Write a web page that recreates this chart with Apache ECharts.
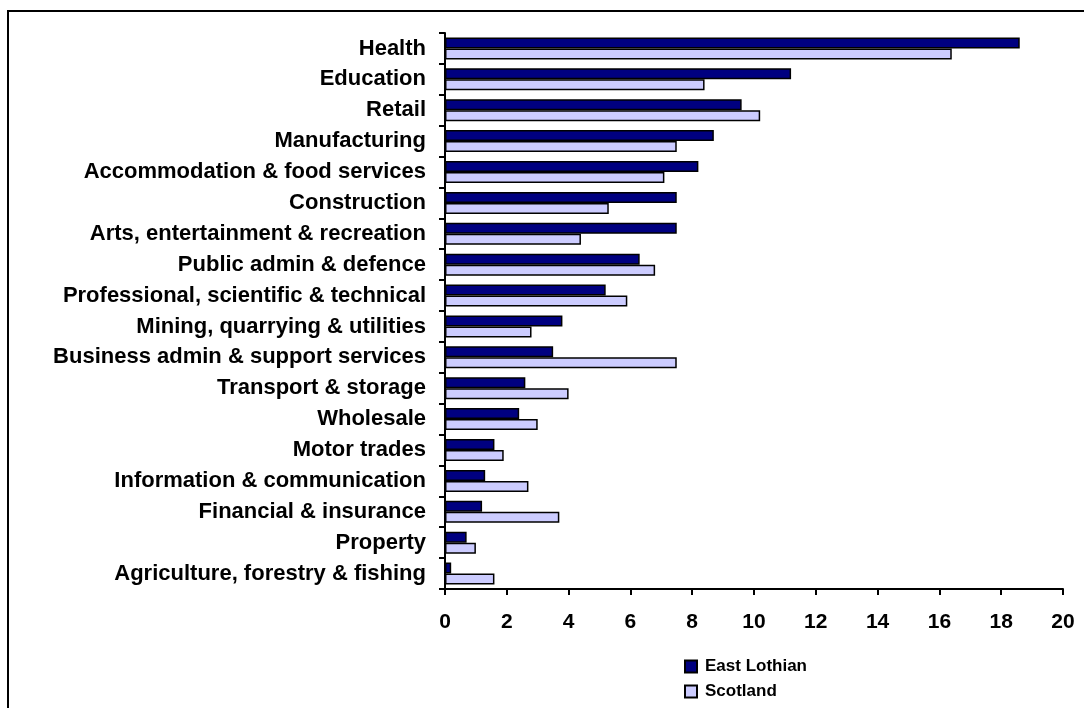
<!DOCTYPE html>
<html>
<head>
<meta charset="utf-8">
<title>Employment by industry – East Lothian and Scotland</title>
<script src="https://cdn.jsdelivr.net/npm/echarts@6/dist/echarts.min.js"></script>
<style>
  html, body { margin: 0; padding: 0; background: #ffffff; }
  #chart { width: 1084px; height: 708px; }
</style>
</head>
<body>
<div id="chart"></div>
<script>
// Industry sectors, listed top to bottom
const industries = [
  'Health',
  'Education',
  'Retail',
  'Manufacturing',
  'Accommodation & food services',
  'Construction',
  'Arts, entertainment & recreation',
  'Public admin & defence',
  'Professional, scientific & technical',
  'Mining, quarrying & utilities',
  'Business admin & support services',
  'Transport & storage',
  'Wholesale',
  'Motor trades',
  'Information & communication',
  'Financial & insurance',
  'Property',
  'Agriculture, forestry & fishing'
];

// Share of employment (%)
const eastLothian = [18.6, 11.2, 9.6, 8.7, 8.2, 7.5, 7.5, 6.3, 5.2, 3.8, 3.5, 2.6, 2.4, 1.6, 1.3, 1.2, 0.7, 0.2];
const scotland    = [16.4, 8.4, 10.2, 7.5, 7.1, 5.3, 4.4, 6.8, 5.9, 2.8, 7.5, 4.0, 3.0, 1.9, 2.7, 3.7, 1.0, 1.6];

const seriesNames = ['East Lothian', 'Scotland'];
const xTicks = { min: 0, max: 20, interval: 2 };

const FONT = 'Arial, "Liberation Sans", sans-serif';

const chart = echarts.init(document.getElementById('chart'), null, { renderer: 'canvas' });

const barStyle = (color) => ({
  color: color,
  borderColor: '#000000',
  borderWidth: 1.5
});

chart.setOption({
  backgroundColor: '#ffffff',
  animation: false,
  graphic: [{
    type: 'rect',
    shape: { x: 8, y: 11, width: 1100, height: 720 },
    style: { fill: 'none', stroke: '#000000', lineWidth: 2 },
    silent: true
  }],
  grid: {
    left: 445,
    right: 21,
    top: 33,
    bottom: 119,
    containLabel: false
  },
  legend: {
    orient: 'vertical',
    left: 684,
    top: 657,
    height: 50,
    padding: 0,
    itemWidth: 12,
    itemHeight: 12,
    itemGap: 6,
    icon: 'rect',
    textStyle: {
      fontFamily: FONT, fontWeight: 'bold', fontSize: 17, lineHeight: 19,
      color: '#000000', padding: [0, 0, 0, 3]
    },
    data: seriesNames
  },
  xAxis: {
    type: 'value',
    min: xTicks.min,
    max: xTicks.max,
    interval: xTicks.interval,
    splitLine: { show: false },
    axisLine: { show: true, lineStyle: { color: '#000000', width: 2 } },
    axisTick: { show: true, length: 6, lineStyle: { color: '#000000', width: 2 } },
    axisLabel: { fontFamily: FONT, fontWeight: 'bold', fontSize: 21, color: '#000000', margin: 23 }
  },
  yAxis: {
    type: 'category',
    inverse: true,
    data: industries,
    axisLine: { show: true, lineStyle: { color: '#000000', width: 2 } },
    axisTick: { show: true, length: 6, lineStyle: { color: '#000000', width: 2 } },
    axisLabel: { fontFamily: FONT, fontWeight: 'bold', fontSize: 22, color: '#000000', margin: 19, interval: 0 }
  },
  series: [
    {
      name: seriesNames[0],
      type: 'bar',
      data: eastLothian,
      barWidth: 11,
      barGap: '0%',
      itemStyle: barStyle('#000080')
    },
    {
      name: seriesNames[1],
      type: 'bar',
      data: scotland,
      barWidth: 11,
      barGap: '0%',
      itemStyle: barStyle('#ccccff')
    }
  ]
});
</script>
</body>
</html>
